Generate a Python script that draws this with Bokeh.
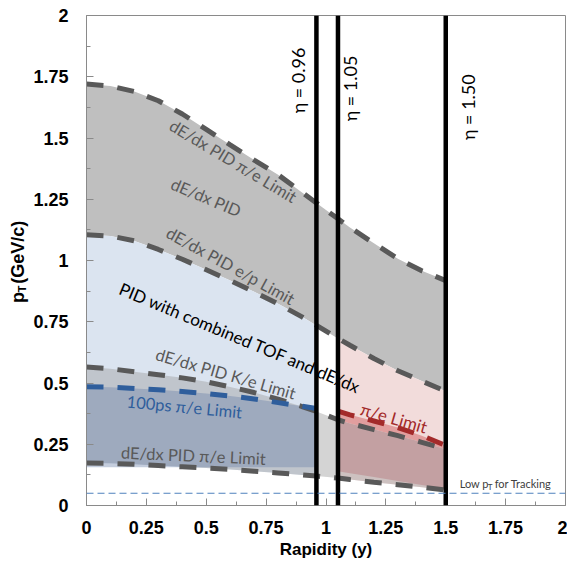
import numpy as np
from bokeh.plotting import figure
from bokeh.layouts import row
from bokeh.models import Span, Label, FixedTicker, Range1d
from bokeh.embed import file_html
from bokeh.resources import INLINE

# ---------------- data ----------------
rapidity = [0, 0.1, 0.2, 0.3, 0.4, 0.5, 0.6, 0.7, 0.8, 0.9, 0.96, 1.05, 1.1, 1.2, 1.3, 1.4, 1.5]
dedx_pie_upper = [1.72, 1.712, 1.69, 1.652, 1.598, 1.535, 1.472, 1.41, 1.35, 1.278, 1.235,
                  1.17, 1.135, 1.07, 1.007, 0.958, 0.918]
dedx_ep = [1.105, 1.10, 1.08, 1.045, 1.005, 0.962, 0.918, 0.872, 0.823, 0.77, 0.735,
           0.682, 0.654, 0.60, 0.55, 0.508, 0.466]
dedx_ke = [0.565, 0.558, 0.546, 0.534, 0.521, 0.505, 0.484, 0.461, 0.434, 0.404, 0.384,
           0.35, 0.335, 0.31, 0.285, 0.258, 0.23]
dedx_pie_lower = [0.173, 0.172, 0.168, 0.163, 0.158, 0.153, 0.147, 0.14, 0.133, 0.125, 0.12,
                  0.112, 0.106, 0.095, 0.085, 0.075, 0.063]
tof_pie = [0.485, 0.483, 0.478, 0.472, 0.465, 0.457, 0.447, 0.435, 0.42, 0.405, 0.396]  # y 0..0.96
tof_floor = 0.156
etof_pie = [0.385, 0.37, 0.345, 0.318, 0.285, 0.245]          # y 1.05..1.5
etof_floor = [0.14, 0.132, 0.116, 0.10, 0.084, 0.068]
eta_rapidity = [0.96, 1.05, 1.50]
eta_labels = ["η = 0.96", "η = 1.05", "η = 1.50"]
low_pt_tracking = 0.05
x_ticks = [0, 0.25, 0.5, 0.75, 1.0, 1.25, 1.5, 1.75, 2.0]
x_tick_labels = ["0", "0.25", "0.5", "0.75", "1", "1.25", "1.5", "1.75", "2"]
y_ticks = [0, 0.25, 0.5, 0.75, 1.0, 1.25, 1.5, 1.75, 2.0]
y_tick_labels = ["0", "0.25", "0.5", "0.75", "1", "1.25", "1.5", "1.75", "2"]

FONT = "Lato"
AXFONT = "Liberation Sans"
H = 563
TITLE_W = 30

# ---------------- main figure ----------------
p = figure(width=537, height=H, x_range=(0, 2), y_range=(0, 2),
           output_backend="svg", toolbar_location=None,
           min_border_left=86 - TITLE_W, min_border_right=2, min_border_top=15,
           min_border_bottom=H - 505)
p.xgrid.visible = False
p.ygrid.visible = False
p.outline_line_color = "#8a8a8a"
p.outline_line_width = 1
p.background_fill_color = "white"
p.border_fill_color = "white"

xa = np.array(rapidity)
top = np.array(dedx_pie_upper)
ep = np.array(dedx_ep)
ke = np.array(dedx_ke)
bot = np.array(dedx_pie_lower)
tof = np.array(tof_pie)
etof = np.array(etof_pie)
efl = np.array(etof_floor)
i96 = rapidity.index(0.96)
i105 = rapidity.index(1.05)


def band(x, y1, y2):
    return list(x) + list(x[::-1]), list(y1) + list(y2[::-1])


# fills
bx, by = band(xa, top, ep)
p.patch(bx, by, fill_color="#bfbfbf", line_color=None)
bx, by = band(xa[:i96 + 1], ep[:i96 + 1], bot[:i96 + 1])
p.patch(bx, by, fill_color="#dbe4f0", line_color=None)
bx, by = band(xa[i105:], ep[i105:], bot[i105:])
p.patch(bx, by, fill_color="#f2dcdb", line_color=None)
bx, by = band(xa, ke, bot)
p.patch(bx, by, fill_color="#a0a0a0", fill_alpha=0.45, line_color=None)
bx, by = band(xa[:i96 + 1], tof, np.full(i96 + 1, tof_floor))
p.patch(bx, by, fill_color="#6b83a9", fill_alpha=0.4, line_color=None)
bx, by = band(xa[i105:], etof, ke[i105:])
p.patch(bx, by, fill_color="#e19e9e", line_color=None)
bx, by = band(xa[i105:], ke[i105:], efl)
p.patch(bx, by, fill_color="#c3a0a2", line_color=None)

# eta lines
for ex in eta_rapidity:
    p.add_layout(Span(location=ex, dimension="height", line_color="black", line_width=4.5))
p.segment(x0=[xa[i96], xa[i105]], y0=[tof[-1], ke[i105]],
          x1=[xa[i96], xa[i105]], y1=[bot[i96], bot[i105]],
          line_color="#7a7a7a", line_width=3)

# low pT tracking line
p.add_layout(Span(location=low_pt_tracking, dimension="width", line_color="#4f81bd",
                  line_width=1, line_dash="7 4"))

# dashed limit curves
dash = "17 14"
for yy in (top, ep, ke, bot):
    p.line(xa, yy, line_color="#595959", line_width=5, line_dash=dash)
p.line(xa[:i96 + 1], tof, line_color="#2f5e9c", line_width=5, line_dash=dash)
p.line(xa[i105:], etof, line_color="#a32a2a", line_width=5, line_dash=dash)


# ---------------- annotations ----------------
def lab(fig, x, y, text, size, color, angle, style="normal", align="center",
        baseline="middle", x_offset=0, y_offset=0, font=FONT):
    fig.add_layout(Label(x=x, y=y, text=text, text_font=font, text_font_size=f"{size}px",
                         text_color=color, angle=angle, text_align=align,
                         text_baseline=baseline, text_font_style=style,
                         x_offset=x_offset, y_offset=y_offset))


lab(p, 0.612, 1.405, "dE/dx PID π/e Limit", 16.5, "#595959", -0.54)
lab(p, 0.499, 1.257, "dE/dx PID", 16.5, "#595959", -0.40)
lab(p, 0.601, 0.978, "dE/dx PID e/p Limit", 16.5, "#595959", -0.50)
lab(p, 0.642, 0.684, "PID with combined TOF and dE/dx", 17, "black", -0.395)
lab(p, 0.581, 0.537, "dE/dx PID K/e Limit", 16.5, "#595959", -0.28)
lab(p, 0.409, 0.402, "100ps π/e Limit", 16.5, "#2f5e9c", -0.095)
lab(p, 0.446, 0.203, "dE/dx PID π/e Limit", 16.5, "#595959", -0.044)
lab(p, 1.284, 0.357, "π/e Limit", 17, "#a32a2a", -0.28)

eta_pos = [(0.883, 1.735), (1.100, 1.702), (1.591, 1.626)]
for (ex, ey), t in zip(eta_pos, eta_labels):
    lab(p, ex, ey, t, 18, "black", np.pi / 2)

lab(p, 1.558, 0.089, "Low p", 11, "#404040", 0, align="left")
lab(p, 1.558, 0.089, "T", 8, "#404040", 0, align="left", x_offset=28, y_offset=-3)
lab(p, 1.558, 0.089, "for Tracking", 11, "#404040", 0, align="left", x_offset=35)

# ---------------- axes ----------------
for ax, ticks, labels in ((p.xaxis, x_ticks, x_tick_labels), (p.yaxis, y_ticks, y_tick_labels)):
    minor = [t + (ticks[1] - ticks[0]) / 2 for t in ticks[:-1]]
    ax.ticker = FixedTicker(ticks=ticks, minor_ticks=minor)
    ax.major_label_overrides = {t: l for t, l in zip(ticks, labels)}
    ax.major_tick_in = 7
    ax.major_tick_out = 0
    ax.minor_tick_in = 4
    ax.minor_tick_out = 0
    ax.axis_line_color = "#8a8a8a"
    ax.major_tick_line_color = "#8a8a8a"
    ax.minor_tick_line_color = "#8a8a8a"
    ax.major_label_text_font = AXFONT
    ax.major_label_text_font_style = "bold"
    ax.major_label_text_font_size = "18px"
    ax.major_label_text_color = "black"
p.xaxis.major_label_standoff = 15
p.yaxis.major_label_standoff = 18
p.xaxis.axis_label = "Rapidity (y)"
p.xaxis.axis_label_text_font = AXFONT
p.xaxis.axis_label_text_font_style = "bold"
p.xaxis.axis_label_text_font_size = "17px"
p.xaxis.axis_label_text_color = "black"
p.xaxis.axis_label_standoff = 3

# ---------------- y-axis title panel ----------------
t = figure(width=TITLE_W, height=H, x_range=Range1d(0, TITLE_W), y_range=Range1d(0, H),
           output_backend="svg", toolbar_location=None,
           x_axis_type=None, y_axis_type=None,
           min_border_left=0, min_border_right=0, min_border_top=0, min_border_bottom=0)
t.xgrid.visible = False
t.ygrid.visible = False
t.outline_line_color = None
t.border_fill_color = "white"
shift = 22
lab(t, 17, H - 302 - shift, "p", 18, "black", np.pi / 2, style="bold", font=AXFONT)
lab(t, 21, H - 292 - shift, "T", 11, "black", np.pi / 2, style="bold", font=AXFONT)
lab(t, 17, H - 250 - shift, "(GeV/c)", 18, "black", np.pi / 2, style="bold", font=AXFONT)

layout = row(t, p, spacing=0)
open("out.html", "w").write(file_html(layout, INLINE))
